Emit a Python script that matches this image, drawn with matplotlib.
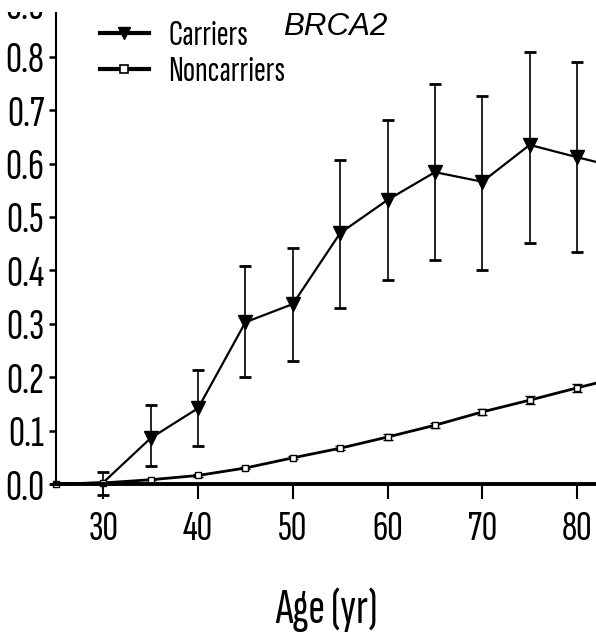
import matplotlib
matplotlib.use("Agg")
import matplotlib.pyplot as plt
from matplotlib import font_manager
from matplotlib.patches import Rectangle
from matplotlib.lines import Line2D
import numpy as np

names = {f.name for f in font_manager.fontManager.ttflist}
COND = "DejaVu Sans"
for cand in ["Sofia Sans Extra Condensed", "Fira Sans Extra Condensed",
             "Roboto Condensed", "Archivo Narrow"]:
    if cand in names:
        COND = cand
        break

# ---- data ----
ages = [25, 30, 35, 40, 45, 50, 55, 60, 65, 70, 75, 80, 85]
carriers = [0.0, 0.003, 0.086, 0.142, 0.303, 0.337, 0.470, 0.532, 0.584, 0.566, 0.635, 0.612, 0.590]
carriers_lo = [0.0, -0.020, 0.034, 0.071, 0.200, 0.230, 0.330, 0.382, 0.419, 0.401, 0.451, 0.434, 0.590]
carriers_hi = [0.0, 0.022, 0.148, 0.213, 0.408, 0.442, 0.607, 0.682, 0.749, 0.727, 0.809, 0.790, 0.590]
noncarriers = [0.0, 0.002, 0.008, 0.016, 0.030, 0.049, 0.067, 0.088, 0.110, 0.135, 0.157, 0.180, 0.202]
noncarriers_err = [0.0, 0.001, 0.001, 0.002, 0.002, 0.003, 0.004, 0.005, 0.005, 0.006, 0.007, 0.008, 0.008]
x_ticks = [30, 40, 50, 60, 70, 80]
y_ticks = [0.0, 0.1, 0.2, 0.3, 0.4, 0.5, 0.6, 0.7, 0.8, 0.9]
series_labels = ["Carriers", "Noncarriers"]
panel_title = "BRCA2"
x_label = "Age (yr)"

W, H = 596, 634
fig = plt.figure(figsize=(W / 100, H / 100), dpi=100)
ax = fig.add_axes([56 / W, 150 / H, 1 - 56 / W, (484 - 3.4) / H])

c = np.array(carriers)
yerr_c = [c - np.array(carriers_lo), np.array(carriers_hi) - c]
ax.errorbar(ages, carriers, yerr=yerr_c, color="black", lw=1.6,
            marker="v", ms=10, mfc="black", mec="black",
            markevery=list(range(2, len(ages))),
            elinewidth=1.2, capsize=4, capthick=2.0, clip_on=False, zorder=3)
ax.errorbar(ages, noncarriers, yerr=noncarriers_err, color="black", lw=2.0,
            marker="s", ms=4.8, mfc="white", mec="black", mew=1.0,
            elinewidth=1.5, capsize=3.5, capthick=1.5, clip_on=False, zorder=4)

ax.set_xlim(25, 82)
ax.set_ylim(0, 0.9)
ax.set_xticks(x_ticks)
ax.set_yticks(y_ticks)
ax.set_yticklabels([f"{v:.1f}" for v in y_ticks])

for s in ["top", "right"]:
    ax.spines[s].set_visible(False)
ax.spines["bottom"].set_linewidth(2.8)
ax.spines["left"].set_linewidth(1.5)
ax.spines["bottom"].set_zorder(5)

ax.tick_params(axis="x", direction="out", length=10.8, width=1.5, pad=9,
               labelsize=31)
ax.tick_params(axis="y", direction="out", length=5, width=1.8, pad=3.5,
               labelsize=32)
for lab in ax.get_xticklabels() + ax.get_yticklabels():
    lab.set_fontfamily(COND)

ax.set_xlabel(x_label, fontsize=36, fontfamily=COND, va="baseline")
ax.xaxis.set_label_coords((326 - 56) / 540, (484 - 623) / 480.6)

handles = [
    Line2D([], [], color="black", lw=3, marker="v", ms=9, mfc="black"),
    Line2D([], [], color="black", lw=3, marker="s", ms=5.5, mfc="white", mew=1.2),
]
ax.legend(handles, series_labels, loc="upper left",
          bbox_to_anchor=(100 / W, 1 - 20 / H), bbox_transform=fig.transFigure,
          frameon=False, prop={"family": COND, "size": 26}, handlelength=1.35,
          handletextpad=0.55, labelspacing=0.1, borderpad=0.0, borderaxespad=0.0)

fig.text(283 / W, 1 - 27 / H, panel_title, fontsize=22.5, fontstyle="italic",
         fontfamily="Liberation Sans", ha="left", va="center")

fig.add_artist(Rectangle((0, 1 - 12 / H), 1, 12 / H, transform=fig.transFigure,
                         facecolor="white", edgecolor="none", zorder=10))

fig.savefig("out.png", dpi=100)
